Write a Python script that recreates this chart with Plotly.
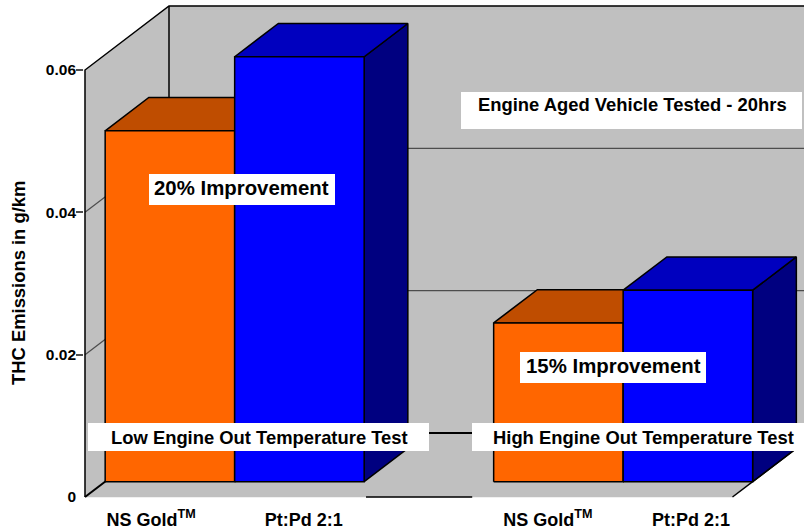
import plotly.graph_objects as go

# values (THC emissions in g/km)
low_temp_values = [0.0493, 0.0597]
high_temp_values = [0.0223, 0.0269]
bar_labels = ["NS Gold<sup>TM</sup>", "Pt:Pd 2:1", "NS Gold<sup>TM</sup>", "Pt:Pd 2:1"]
y_ticks = [0, 0.02, 0.04, 0.06]
y_tick_labels = ["0", "0.02", "0.04", "0.06"]

WIDTH, HEIGHT = 804, 531
PLOT_L, PLOT_T, PLOT_B = 84, 4, 499
PX_PER_X = 129.5
PX_PER_Y = 427 / 0.06
ORIGIN_PX, ZERO_PX = 85, 497

# 3D look: how far the back wall is shifted, in axis units
DEPTH_X = 84 / PX_PER_X
DEPTH_Y = 64 / PX_PER_Y
BAR_FRONT, BAR_BACK = 0.24, 0.76
Y_TOP = 0.06
X_END = 5

GREY = "#c0c0c0"
EDGE = "black"
FONT = "Liberation Sans"


def proj(x, v, d=0):
    return x + d * DEPTH_X, v + d * DEPTH_Y


def paper_x(px):
    return (px - PLOT_L) / (WIDTH - PLOT_L)


def paper_y(px):
    return 1 - (px - PLOT_T) / (PLOT_B - PLOT_T)


fig = go.Figure()


def add_poly(points, fill=None, color=EDGE, width=1.5):
    xs, ys = zip(*[proj(*p) for p in points])
    fig.add_trace(go.Scatter(
        x=list(xs), y=list(ys),
        mode="lines",
        fill="toself" if fill else None,
        fillcolor=fill,
        line=dict(color=color, width=width),
        showlegend=False,
        hoverinfo="skip",
    ))


def add_bar(x, value, front, top, side):
    x0, x1 = x, x + 1
    f, b = BAR_FRONT, BAR_BACK
    add_poly([(x1, 0, f), (x1, 0, b), (x1, value, b), (x1, value, f), (x1, 0, f)], side)
    add_poly([(x0, value, f), (x1, value, f), (x1, value, b), (x0, value, b), (x0, value, f)], top)
    add_poly([(x0, 0, f), (x1, 0, f), (x1, value, f), (x0, value, f), (x0, 0, f)], front)


# walls and floor
add_poly([(0, 0, 1), (X_END, 0, 1), (X_END, Y_TOP, 1), (0, Y_TOP, 1), (0, 0, 1)], GREY, GREY, 0.5)
add_poly([(0, 0, 0), (0, 0, 1), (0, Y_TOP, 1), (0, Y_TOP, 0), (0, 0, 0)], GREY, GREY, 0.5)
add_poly([(0, 0, 0), (X_END, 0, 0), (X_END, 0, 1), (0, 0, 1), (0, 0, 0)], GREY, GREY, 0.5)

# grid lines on the side and back walls
for v in y_ticks[1:3]:
    add_poly([(0, v, 0), (0, v, 1), (X_END, v, 1)], color="#4d4d4d", width=1.2)

# wall edges
add_poly([(0, 0, 0), (0, Y_TOP, 0), (0, Y_TOP, 1), (X_END, Y_TOP, 1)])
add_poly([(0, Y_TOP, 1), (0, 0, 1)])
add_poly([(0, 0, 0), (0, 0, 1), (X_END, 0, 1)], width=2)
add_poly([(X_END, 0, 1), (X_END, 0, 0)], width=1.5)
# only this piece of the front floor edge shows between the label boxes
add_poly([(2.17, 0, 0), (2.99, 0, 0)], width=1.5)

# bars, orange first so the blue one sits over its right side
for start, values in [(0, low_temp_values), (3, high_temp_values)]:
    add_bar(start, values[0], "#ff6600", "#bf4d00", "#bf4d00")
    add_bar(start + 1, values[1], "#0000ff", "#0000bf", "#000080")

# white boxes behind the notes
boxes = [
    (149, 174, 335, 205),
    (520, 352, 706, 383),
    (461, 92, 802, 129),
    (88, 423, 429, 451),
    (472, 423, 804, 451),
]
shapes = [
    dict(type="rect", xref="paper", yref="paper", layer="above",
         x0=paper_x(x0), x1=paper_x(x1), y0=paper_y(y1), y1=paper_y(y0),
         fillcolor="white", line=dict(width=0))
    for x0, y0, x1, y1 in boxes
]

notes = [
    ("20% Improvement", 241.5, 188, 20.4),
    ("15% Improvement", 613, 366, 20.4),
    ("Engine Aged Vehicle Tested - 20hrs", 632, 105, 18.4),
    ("Low Engine Out Temperature Test", 259, 437, 18.4),
    ("High Engine Out Temperature Test", 643, 437, 18.4),
]
annotations = [
    dict(text=f"<b>{t}</b>", x=paper_x(x), y=paper_y(y), xref="paper", yref="paper",
         showarrow=False, xanchor="center", yanchor="middle",
         font=dict(family=FONT, size=s, color="black"))
    for t, x, y, s in notes
]
annotations.append(dict(
    text="<b>THC Emissions in g/km</b>", x=paper_x(18), y=paper_y(283),
    xref="paper", yref="paper", showarrow=False, textangle=-90,
    xanchor="center", yanchor="middle",
    font=dict(family=FONT, size=18.4, color="black"),
))

fig.update_layout(
    width=WIDTH, height=HEIGHT,
    margin=dict(l=PLOT_L, r=0, t=PLOT_T, b=HEIGHT - PLOT_B, autoexpand=False),
    paper_bgcolor="white", plot_bgcolor="white",
    shapes=shapes, annotations=annotations,
    xaxis=dict(
        range=[(PLOT_L - ORIGIN_PX) / PX_PER_X, (WIDTH - ORIGIN_PX) / PX_PER_X],
        showgrid=False, zeroline=False, showline=False, ticks="",
        tickmode="array", tickvals=[0.51, 1.69, 3.575, 4.68], ticktext=[f"<b>{t}</b>" for t in bar_labels],
        ticklabelstandoff=8,
        tickfont=dict(family=FONT, size=18, color="black"),
    ),
    yaxis=dict(
        range=[(ZERO_PX - PLOT_B) / PX_PER_Y, (ZERO_PX - PLOT_T) / PX_PER_Y],
        showgrid=False, zeroline=False, showline=False, ticks="",
        tickmode="array", tickvals=y_ticks, ticktext=[f"<b>{t}</b>" for t in y_tick_labels],
        ticklabelstandoff=7,
        tickfont=dict(family=FONT, size=15.5, color="black"),
        minor=dict(tickmode="array", tickvals=y_ticks[1:], ticks="outside", ticklen=7,
                   tickwidth=1.5, tickcolor="#4d4d4d", showgrid=False),
    ),
)

fig.write_html("out.html", config=dict(displayModeBar=False),
               post_script="document.body.style.margin='0';")
